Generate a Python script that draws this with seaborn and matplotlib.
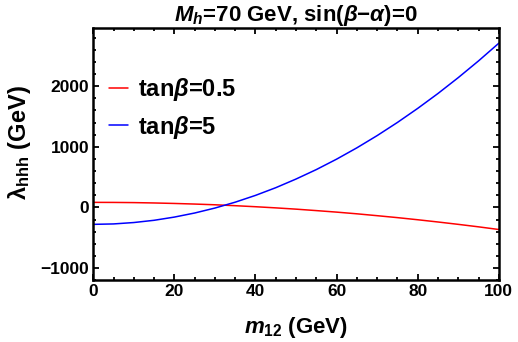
import matplotlib
matplotlib.use('Agg')
import matplotlib.pyplot as plt
import seaborn as sns
import pandas as pd
from matplotlib.ticker import MultipleLocator

# ========== Data ==========
m12 = [0, 5, 10, 15, 20, 25, 30, 35, 40, 45, 50,
       55, 60, 65, 70, 75, 80, 85, 90, 95, 100]
lam_tb05 = [83, 82, 79, 73, 65, 55, 43, 28, 11, -8, -29,
            -53, -78, -106, -137, -169, -204, -241, -280, -321, -365]
lam_tb5 = [-280, -273, -250, -213, -160, -93, -11, 86, 198, 325, 468,
           624, 796, 983, 1185, 1402, 1634, 1880, 2142, 2418, 2710]
labels = [r'tan$\beta$=0.5', r'tan$\beta$=5']
colors = ['#ff0000', '#0000ff']

df = pd.concat([
    pd.DataFrame({'m12': m12, 'lam': lam_tb05, 'series': labels[0]}),
    pd.DataFrame({'m12': m12, 'lam': lam_tb5, 'series': labels[1]}),
])

# ========== Style ==========
sns.set_theme(style='ticks')
plt.rcParams['font.family'] = ['Liberation Sans', 'DejaVu Sans']
plt.rcParams['font.weight'] = 'bold'
plt.rcParams['text.color'] = 'black'
plt.rcParams['axes.labelcolor'] = 'black'
plt.rcParams['xtick.color'] = 'black'
plt.rcParams['ytick.color'] = 'black'
plt.rcParams['mathtext.fontset'] = 'custom'
plt.rcParams['mathtext.rm'] = 'Liberation Sans:bold'
plt.rcParams['mathtext.bf'] = 'Liberation Sans:bold'
plt.rcParams['mathtext.it'] = 'Liberation Sans:bold:italic'
plt.rcParams['mathtext.default'] = 'it'

fig = plt.figure(figsize=(5.18, 3.42), dpi=100)
ax = fig.add_axes([0.18, 0.181, 0.783, 0.737])

sns.lineplot(data=df, x='m12', y='lam', hue='series', palette=colors,
             linewidth=1.1, ax=ax, legend=True)

ax.set_xlim(0, 100)
ax.set_ylim(-1200, 2960)
ax.xaxis.set_major_locator(MultipleLocator(20))
ax.xaxis.set_minor_locator(MultipleLocator(5))
ax.yaxis.set_major_locator(MultipleLocator(1000))
ax.yaxis.set_minor_locator(MultipleLocator(200))
ax.tick_params(which='both', direction='in', top=True, right=True,
               labelsize=12.5, width=1.3, colors='black', pad=3)
ax.tick_params(which='major', length=4)
ax.tick_params(which='minor', length=2.5)
ax.set_yticks([-1000, 0, 1000, 2000])
ax.set_yticklabels(['\u22121000', '0', '1000', '2000'])
for lbl in ax.get_xticklabels() + ax.get_yticklabels():
    lbl.set_fontweight('bold')
for s in ax.spines.values():
    s.set_linewidth(1.8)
    s.set_color('black')

ax.set_xlabel(r'$m_{\mathrm{12}}$ (GeV)', fontsize=16, fontweight='bold', labelpad=11)
ax.set_ylabel(r'$\mathrm{\lambda_{hhh}}$ (GeV)', fontsize=17, fontweight='bold')
ax.yaxis.set_label_coords(-0.148, 0.545)
ax.set_title(r'$M_h$=70 GeV, sin($\beta$$-$$\alpha$)=0', fontsize=16,
             fontweight='bold', pad=3)

leg = ax.legend(loc='upper left', frameon=False, fontsize=17,
                handlelength=0.8, handletextpad=0.4, labelspacing=0.45,
                borderaxespad=0, borderpad=0, bbox_to_anchor=(0.04, 0.81))
for t in leg.get_texts():
    t.set_fontweight('bold')

plt.savefig('out.png', dpi=100)
plt.close()
